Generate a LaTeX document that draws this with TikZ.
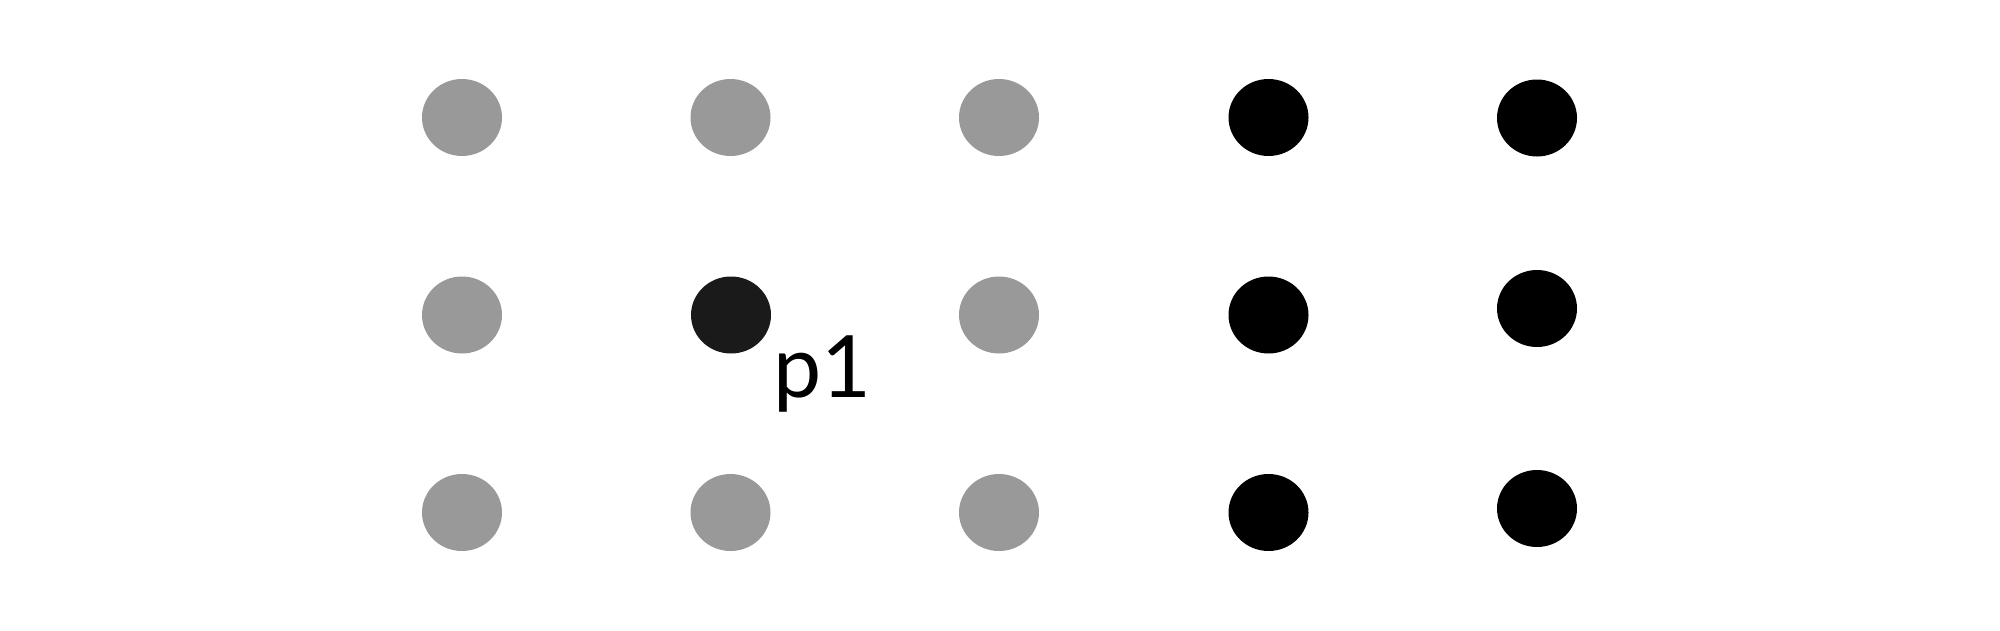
\documentclass[tikz,border=0pt]{standalone}
\usepackage{fontspec}
\setmainfont{Lato}
\usetikzlibrary{shapes.geometric}
\definecolor{dotgray}{HTML}{999999}
\definecolor{dotdark}{HTML}{1A1A1A}
\tikzset{
  dot/.style={ellipse, minimum width=80pt, minimum height=77pt, inner sep=0pt, draw=none},
  graydot/.style={dot, fill=dotgray},
  blackdot/.style={dot, fill=black},
  darkdot/.style={dot, fill=dotdark},
  lbl/.style={anchor=base west, inner sep=0pt, font=\fontsize{86pt}{90pt}\selectfont}
}
\begin{document}
\begin{tikzpicture}[x=1pt,y=-1pt]
\useasboundingbox[fill=white] (0,0) rectangle (2000,630);
\node[graydot] (a1) at (462,117.5) {};
\node[graydot] (a2) at (730.5,117.5) {};
\node[graydot] (a3) at (999,117.5) {};
\node[blackdot] (a4) at (1268.5,117.5) {};
\node[blackdot] (a5) at (1537,118) {};
\node[graydot] (b1) at (462,315) {};
\node[darkdot] (b2) at (731,315) {};
\node[graydot] (b3) at (999,315) {};
\node[blackdot] (b4) at (1268.5,315) {};
\node[blackdot] (b5) at (1537,308.5) {};
\node[graydot] (c1) at (462,512.5) {};
\node[graydot] (c2) at (730.5,512.5) {};
\node[graydot] (c3) at (999,512.5) {};
\node[blackdot] (c4) at (1268.5,512.5) {};
\node[blackdot] (c5) at (1537,508.5) {};
\node[lbl] (p1) at (773,397) {p1};
\end{tikzpicture}
\end{document}
